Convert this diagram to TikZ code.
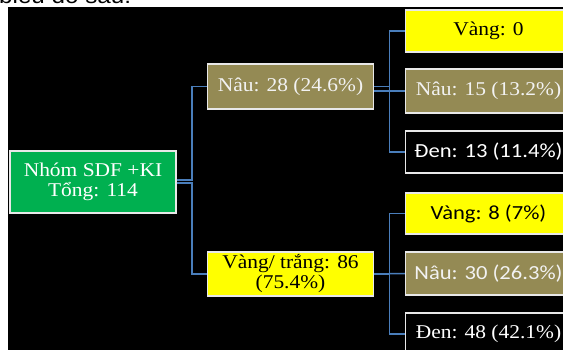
\documentclass[tikz,border=0pt]{standalone}
\usepackage{graphicx}
\usepackage{fontspec}
\setmainfont{Liberation Serif}
\newfontfamily\sansf{Carlito}
\newfontfamily\arialf{Liberation Sans}
\newcommand\tx[1]{\scalebox{1.1}[1]{#1}}
\newcommand\txs[1]{\scalebox{1.13}[1]{#1}}
\definecolor{sagreen}{HTML}{00B050}
\definecolor{sabrown}{HTML}{948A54}
\definecolor{sayellow}{HTML}{FFFF00}
\definecolor{saline}{HTML}{4A7EBB}
\definecolor{saborder}{HTML}{E8E8E8}
\begin{document}
\begin{tikzpicture}[x=1pt,y=-1pt,
  box/.style={rectangle, draw=saborder, line width=1.2pt, inner sep=0pt,
    minimum width=166pt, minimum height=43pt, align=center,
    font=\fontsize{19.5}{20}\selectfont},
  greenbox/.style={box, fill=sagreen, text=white},
  brownbox/.style={box, fill=sabrown, text=white!95!black},
  yellowbox/.style={box, fill=sayellow, text=black},
  blackbox/.style={box, fill=black, text=white},
  sanstext/.style={font=\sansf\fontsize{20}{21}\selectfont},
  conn/.style={draw=saline, line width=1.5pt}]
\useasboundingbox (0,0) rectangle (563,350);
\clip (0,0) rectangle (563,350);
\fill[white] (0,0) rectangle (563,350);
\fill[black] (8,7) rectangle (563,350);
\node[anchor=base west, inner sep=0pt, font=\arialf\fontsize{22}{22}\selectfont] (title) at (-1,4) {\tx{biểu đồ sau:}};

\node[greenbox, minimum height=62pt] (root) at (93,182) {\tx{Nhóm SDF +KI}\\\tx{Tổng: 114}};
\node[brownbox, minimum height=45pt] (n28) at (290.5,86.5) {\tx{Nâu: 28 (24.6\%)}};
\node[yellowbox, minimum height=44pt] (v86) at (290.5,274) {\tx{Vàng/ trắng: 86}\\\tx{(75.4\%)}};

\node[yellowbox, minimum height=42pt] (v0) at (488.5,31) {\tx{Vàng: 0}};
\node[brownbox, minimum height=44pt] (n15) at (488.5,91) {\tx{Nâu: 15 (13.2\%)}};
\node[blackbox, sanstext, minimum height=42pt] (d13) at (488.5,152) {\txs{Đen: 13 (11.4\%)}};
\node[yellowbox, sanstext, minimum height=41pt] (v8) at (488.5,213.5) {\txs{Vàng: 8 (7\%)}};
\node[brownbox, sanstext, minimum height=43pt] (n30) at (488.5,273.5) {\txs{Nâu: 30 (26.3\%)}};
\node[blackbox, minimum height=42pt] (d48) at (488.5,334) {\tx{Đen: 48 (42.1\%)}};

\draw[conn] ([yshift=2pt]root.east) -- ++(15.5,0) |- (n28.west);
\draw[conn] ([yshift=-1pt]root.east) -- ++(15.5,0) |- (v86.west);
\draw[conn] (n28.east) -- ++(15.5,0) |- (v0.west);
\draw[conn] ([yshift=-4.5pt]n28.east) -- (n15.west);
\draw[conn] (n28.east) -- ++(15.5,0) |- (d13.west);
\draw[conn] (v86.east) -- ++(15.5,0) |- (v8.west);
\draw[conn] (v86.east) -- (n30.west);
\draw[conn] (v86.east) -- ++(15.5,0) |- (d48.west);
\end{tikzpicture}
\end{document}
